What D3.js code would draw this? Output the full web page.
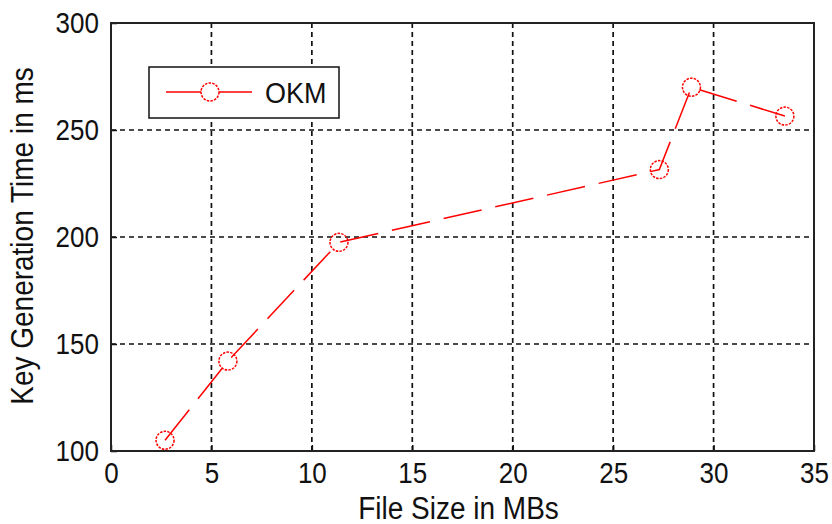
<!DOCTYPE html>
<html>
<head>
<meta charset="utf-8">
<script src="https://cdn.jsdelivr.net/npm/d3@7"></script>
<style>
  html, body { margin: 0; padding: 0; background: #fff; }
  svg { display: block; font-family: "Liberation Sans", Arial, sans-serif; }
</style>
</head>
<body>
<svg id="chart" width="832" height="524"></svg>
<script>
// Data
const fileSizes = [2.69, 5.82, 11.35, 27.3, 28.9, 33.55];
const keyGenTimes = [105, 142, 197.5, 231.5, 270, 256.5];
const xTicks = [0, 5, 10, 15, 20, 25, 30, 35];
const yTicks = [100, 150, 200, 250, 300];
const seriesName = "OKM";
const xLabel = "File Size in MBs";
const yLabel = "Key Generation Time in ms";

(function () {
const svg = d3.select("#chart");
const pL = 111, pR = 814, pT = 23, pB = 451;
const sy = 1.1; // slight vertical stretch of the text, as in the reference

const x = d3.scaleLinear().domain([0, 35]).range([pL, pR]);
const y = d3.scaleLinear().domain([100, 300]).range([pB, pT]);

// grid
const grid = svg.append("g").attr("stroke", "#111").attr("stroke-width", 1.7)
  .attr("stroke-dasharray", "5,4");
grid.selectAll("line.vx").data(xTicks.filter(d => d > 0 && d < 35)).join("line")
  .attr("x1", d => x(d)).attr("x2", d => x(d)).attr("y1", pT).attr("y2", pB);
grid.selectAll("line.hy").data(yTicks.filter(d => d > 100 && d < 300)).join("line")
  .attr("x1", pL).attr("x2", pR).attr("y1", d => y(d)).attr("y2", d => y(d));

// axes with D3 axis generators (ticks inward)
const fontTick = 26;
const xAxis = svg.append("g").attr("transform", `translate(0,${pB})`)
  .call(d3.axisBottom(x).tickValues(xTicks).tickSize(-6).tickPadding(14).tickFormat(d3.format("d")));
const yAxis = svg.append("g").attr("transform", `translate(${pL},0)`)
  .call(d3.axisLeft(y).tickValues(yTicks).tickSize(-6).tickPadding(12).tickFormat(d3.format("d")));
[xAxis, yAxis].forEach(a => {
  a.select(".domain").remove();
  a.selectAll(".tick line").attr("stroke", "#111").attr("stroke-width", 1.5);
  a.selectAll(".tick text").attr("font-size", fontTick).attr("fill", "#111")
    .attr("font-family", "Liberation Sans, Arial, sans-serif");
});
// x tick labels: baseline ~32px below the axis
xAxis.selectAll(".tick text").attr("dy", null).attr("y", 32 / sy)
  .attr("transform", `scale(1,${sy})`);
// y tick labels: vertically centred on tick
yAxis.selectAll(".tick text").attr("dy", null).attr("y", 9.5 / sy)
  .attr("transform", `scale(1,${sy})`);

// box
svg.append("rect").attr("x", pL).attr("y", pT)
  .attr("width", pR - pL).attr("height", pB - pT)
  .attr("fill", "none").attr("stroke", "#222").attr("stroke-width", 2);

// series
const pts = fileSizes.map((v, i) => [v, keyGenTimes[i]]);
svg.append("path").datum(pts)
  .attr("d", d3.line().x(d => x(d[0])).y(d => y(d[1])))
  .attr("fill", "none").attr("stroke", "#ff0000").attr("stroke-width", 1.5)
  .attr("stroke-dasharray", "39,14");
svg.selectAll("circle.pt").data(pts).join("circle")
  .attr("cx", d => x(d[0])).attr("cy", d => y(d[1])).attr("r", 9)
  .attr("fill", "none").attr("stroke", "#ff0000").attr("stroke-width", 1.5)
  .attr("stroke-dasharray", "2.5,1.2");

// legend
const lg = svg.append("g");
lg.append("rect").attr("x", 149).attr("y", 67).attr("width", 190).attr("height", 51)
  .attr("fill", "#fff").attr("stroke", "#111").attr("stroke-width", 1.5);
lg.append("line").attr("x1", 166).attr("x2", 252).attr("y1", 92).attr("y2", 92)
  .attr("stroke", "#ff0000").attr("stroke-width", 1.5);
lg.append("circle").attr("cx", 210).attr("cy", 92).attr("r", 9)
  .attr("fill", "#fff").attr("stroke", "#ff0000").attr("stroke-width", 1.5)
  .attr("stroke-dasharray", "2.5,1.2");
lg.append("text").attr("transform", `translate(265,103) scale(1,${sy})`)
  .attr("font-size", 27).attr("fill", "#111").text(seriesName);

// axis labels
svg.append("text").attr("transform", `translate(${(pL + pR) / 2 - 4},519) scale(1,${sy})`)
  .attr("text-anchor", "middle").attr("font-size", 28).attr("fill", "#111").text(xLabel);
svg.append("text").attr("transform", `translate(33,236) rotate(-90) scale(1,${sy})`)
  .attr("text-anchor", "middle").attr("font-size", 28).attr("fill", "#111").text(yLabel);
})();
</script>
</body>
</html>
